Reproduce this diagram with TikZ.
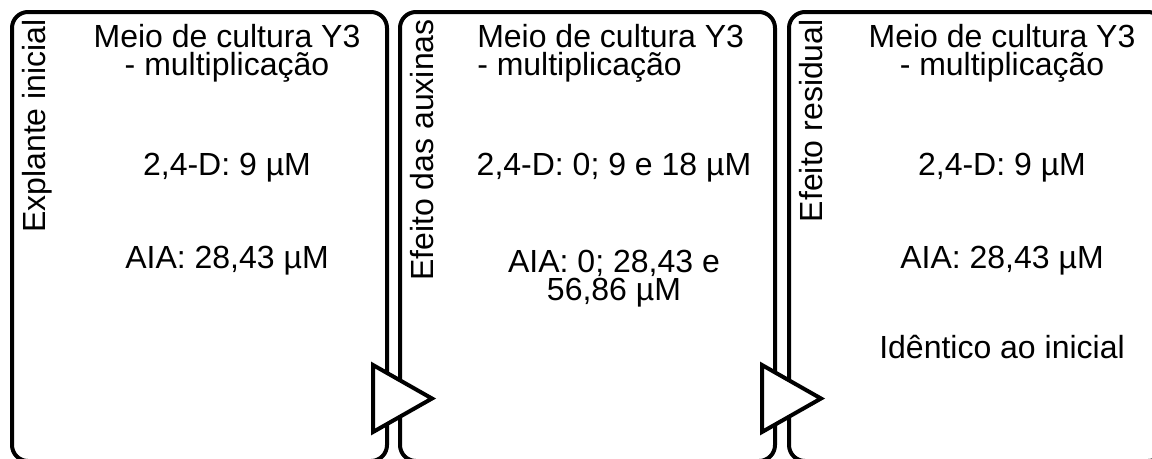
\documentclass[tikz,border=0pt]{standalone}
\usepackage{fontspec}
\setmainfont{Liberation Sans}

\begin{document}
\begin{tikzpicture}[x=0.75pt,y=-0.75pt,
        painel/.style={draw,line width=3pt,rounded corners=12pt,minimum width=281.25pt,minimum height=336.75pt,inner sep=0pt},
        seta/.style={draw,fill=white,line width=3pt,line join=miter},
        texto/.style={font=\fontsize{24}{21}\selectfont,inner sep=0pt,anchor=base},
        rotulo/.style={font=\fontsize{24}{21}\selectfont,inner sep=0pt,rotate=90,anchor=base east}]
        \useasboundingbox (0,0) rectangle (1152,458);
        \clip (0,0) rectangle (1152,458);

        \node[painel] (p1) at (199.5,236.5) {};
        \node[painel] (p2) at (587.5,236.5) {};
        \node[painel] (p3) at (976.5,236.5) {};

        \foreach \x in {373,762}
            \draw[seta] (\x,365) -- ++(59,33.5) -- ++(-59,33.5) -- cycle;

        \node[rotulo] (r1) at (45,19) {Explante inicial};
        \node[rotulo] (r2) at (433,19) {Efeito das auxinas};
        \node[rotulo] (r3) at (822,19) {Efeito residual};

        \node[texto,align=center] (meio1) at (227,75) {Meio de cultura Y3\\- multiplicação};
        \node[texto] (d1) at (227,175) {2,4-D: 9 µM};
        \node[texto] (aia1) at (227,268) {AIA: 28,43 µM};

        \node[texto,align=left,anchor=base west] (meio2) at (477,75) {Meio de cultura Y3\\- multiplicação};
        \node[texto] (d2) at (614,175) {2,4-D: 0; 9 e 18 µM};
        \node[texto,align=center] (aia2) at (614,300) {AIA: 0; 28,43 e\\56,86 µM};

        \node[texto,align=center] (meio3) at (1002,75) {Meio de cultura Y3\\- multiplicação};
        \node[texto] (d3) at (1002,175) {2,4-D: 9 µM};
        \node[texto] (aia3) at (1002,268) {AIA: 28,43 µM};
        \node[texto] (id3) at (1002,358) {Idêntico ao inicial};
\end{tikzpicture}
\end{document}
